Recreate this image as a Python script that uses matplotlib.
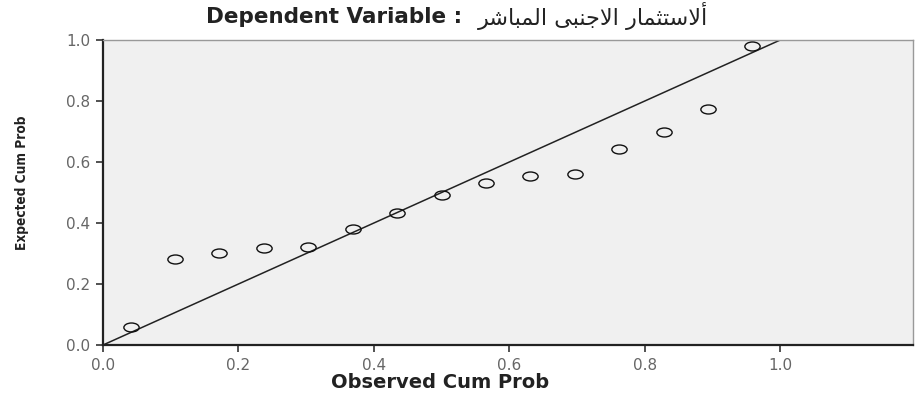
import numpy as np
import matplotlib
matplotlib.use("Agg")
import matplotlib.pyplot as plt
from matplotlib import font_manager
from matplotlib.path import Path
from matplotlib.transforms import Affine2D

# observed vs expected cumulative probabilities
observed = [0.041, 0.107, 0.172, 0.238, 0.303, 0.369, 0.434, 0.500,
            0.566, 0.631, 0.697, 0.762, 0.828, 0.893, 0.959]
expected = [0.060, 0.283, 0.302, 0.317, 0.320, 0.380, 0.434, 0.491,
            0.532, 0.555, 0.561, 0.641, 0.697, 0.773, 0.980]
ref_line = [0.0, 1.0]
ticks = [0.0, 0.2, 0.4, 0.6, 0.8, 1.0]

# Arabic title part, written in presentation forms (visual order) since
# matplotlib does no Arabic shaping: "ألاستثمار الاجنبى المباشر"
word1 = "\uFEAD\uFE8E\uFEE4\uFE9C\uFE98\uFEB3\uFEFB\uFE83"   # ألاستثمار
word2 = "\uFEF0\uFE92\uFEE8\uFE9F\uFEFB\uFE8D"               # الاجنبى
word3 = "\uFEAE\uFEB7\uFE8E\uFE92\uFEE4\uFEDF\uFE8D"         # المباشر
arabic = word3 + " " + word2 + " " + word1

# look for a narrow bold face for the y label (SPSS uses Arial Narrow there)
narrow_file = None
for f in font_manager.fontManager.ttflist:
    if ("Narrow" in f.name or "Condensed" in f.name or f.stretch == "condensed") \
            and f.weight in ("bold", 700):
        narrow_file = f.fname
        break
if narrow_file:
    ylab_font = font_manager.FontProperties(fname=narrow_file, size=9.8)
else:
    ylab_font = font_manager.FontProperties(family="DejaVu Sans", weight="bold", size=9.5)

W, H = 915, 395
fig = plt.figure(figsize=(9.15, 3.95), dpi=100)
ax = fig.add_axes([103 / W, 1 - 345 / H, 810 / W, 305 / H])
ax.set_facecolor("#f0f0f0")

oval = Path.unit_circle().transformed(Affine2D().scale(1.7, 1.0))
ax.plot(ref_line, ref_line, color="#222222", lw=1.1, zorder=2)
ax.plot(observed, expected, linestyle="none", marker=oval, markersize=11,
        markerfacecolor="none", markeredgecolor="#111111", markeredgewidth=1.0,
        zorder=3, clip_on=False)

ax.set_xlim(0, 1.196)
ax.set_ylim(0, 1.0)
ax.set_xticks(ticks)
ax.set_yticks(ticks)
ax.set_xticklabels([f"{t:.1f}" for t in ticks])
ax.set_yticklabels([f"{t:.1f}" for t in ticks])
ax.tick_params(direction="out", length=5, width=1.2, color="#333333",
               labelsize=11, labelcolor="#666666", pad=4)

for side in ["left", "bottom"]:
    ax.spines[side].set_color("#222222")
    ax.spines[side].set_linewidth(1.6)
for side in ["top", "right"]:
    ax.spines[side].set_color("#999999")
    ax.spines[side].set_linewidth(1.0)

fig.text(440 / W, 1 - 383 / H, "Observed Cum Prob", ha="center", va="center",
         fontsize=14, fontweight="bold", color="#222222")
fig.text(22 / W, 1 - 183 / H, "Expected Cum Prob", ha="center", va="center",
         rotation=90, color="#222222", fontproperties=ylab_font)

fig.text(462 / W, 1 - 17 / H, "Dependent Variable :", ha="right", va="center",
         fontsize=15.5, fontweight="bold", color="#222222")
fig.text(478 / W, 1 - 16 / H, arabic, ha="left", va="center",
         fontsize=16, color="#222222", family="DejaVu Sans")

fig.savefig("out.png", dpi=100)
